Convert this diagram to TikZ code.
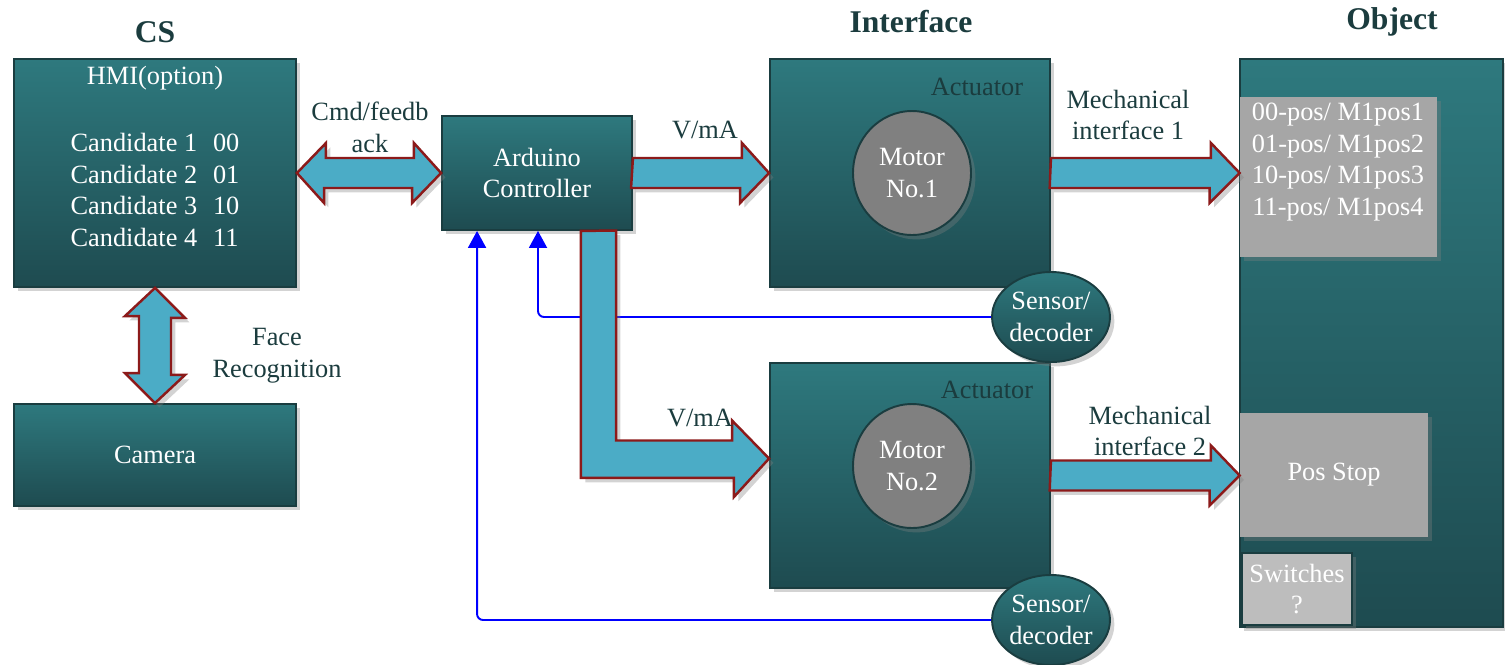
\documentclass[tikz,border=0pt]{standalone}
\usepackage{fontspec}
\setmainfont{Liberation Serif}
\usetikzlibrary{calc,shadows,arrows.meta,shapes.geometric}

\definecolor{tealtop}{HTML}{2E797E}
\definecolor{tealbot}{HTML}{1E4B50}
\definecolor{tealline}{HTML}{1A3D40}
\definecolor{labelcol}{HTML}{1B3C3E}
\definecolor{arrowfill}{HTML}{4BACC6}
\definecolor{arrowline}{HTML}{8C1A1A}
\definecolor{motorgray}{HTML}{808080}
\definecolor{boxgray}{HTML}{A6A6A6}
\definecolor{switchgray}{HTML}{BDBDBD}

\tikzset{
  shadowed/.style={drop shadow={opacity=0.35,shadow xshift=2.5pt,shadow yshift=-2.5pt}},
  box/.style={draw=tealline, line width=1.1pt, top color=tealtop, bottom color=tealbot,
    shadowed, text=white, align=center, inner sep=0pt},
  motor/.style={ellipse, draw=tealline, line width=1.1pt, fill=motorgray, shadowed,
    text=white, align=center, inner sep=0pt, minimum width=2.36cm, minimum height=2.48cm},
  sensor/.style={ellipse, box, minimum width=2.28cm, minimum height=1.8cm},
  graybox/.style={fill=boxgray, shadowed, text=white, align=center, inner sep=0pt},
  lbl/.style={text=labelcol, align=center, inner sep=0pt},
  ttl/.style={text=labelcol, inner sep=0pt, font=\fontsize{18}{21}\selectfont\bfseries},
  fat/.style={draw=arrowline, line width=1.4pt, fill=arrowfill, line join=miter, shadowed},
  fb/.style={draw=blue, line width=1.1pt, rounded corners=0.12cm,
    -{Triangle[width=0.36cm,length=0.34cm]}},
}

\begin{document}
\begin{tikzpicture}[x=0.02cm, y=-0.02cm, font=\fontsize{15}{18.1}\selectfont]
\useasboundingbox (0,0) rectangle (1505,664);

\node[ttl] (cst) at (155,32) {CS};
\node[ttl] (ift) at (911,22) {Interface};
\node[ttl] (objt) at (1392,22) {Object};

\node[box, minimum width=5.64cm, minimum height=4.56cm] (cs) at (155,173) {};
\node[lbl, text=white] (hmi) at (155,78) {HMI(option)};
\node[lbl, text=white, align=left] (cand) at (155,190) {Candidate 1\hspace{.6em}00\\Candidate 2\hspace{.6em}01\\Candidate 3\hspace{.6em}10\\Candidate 4\hspace{.6em}11};
\node[box, minimum width=5.64cm, minimum height=2.04cm] (cam) at (155,455) {Camera};

\node[box, minimum width=3.8cm, minimum height=2.28cm] (ard) at (537,173) {Arduino\\Controller};

\node[box, minimum width=5.6cm, minimum height=4.56cm] (act1) at (910,173) {};
\node[lbl] (actl1) at (977,87) {Actuator};
\node[motor] (mot1) at (912,173) {Motor\\No.1};
\node[box, minimum width=5.6cm, minimum height=4.5cm] (act2) at (910,475.5) {};
\node[lbl] (actl2) at (987,390) {Actuator};
\node[motor] (mot2) at (912,466) {Motor\\No.2};
\node[sensor] (sen1) at (1051,317) {Sensor/\\decoder};
\node[sensor] (sen2) at (1051,620) {Sensor/\\decoder};

\node[box, minimum width=5.26cm, minimum height=11.36cm] (obj) at (1371.5,343) {};
\node[graybox, minimum width=3.94cm, minimum height=3.2cm] (pos1) at (1338.5,177) {};
\node[lbl, text=white] (posl) at (1338,162) {00-pos/ M1pos1\\01-pos/ M1pos2\\10-pos/ M1pos3\\11-pos/ M1pos4};
\node[graybox, minimum width=3.76cm, minimum height=2.48cm] (stop) at (1334,475) {Pos Stop};
\node[graybox, fill=switchgray, draw=tealline, line width=0.6pt, minimum width=2.2cm, minimum height=1.44cm] (sw) at (1297,589) {Switches\\?};

\draw[fb] (sen1.west) -| ($(ard.south)+(1,0)$);
\draw[fb] (sen2.west) -| ($(ard.south west)+(36,0)$);

\draw[fat] (cs.east) -- ++(29,-30) -- ++(0,15) -- ++(88,0) -- ++(0,-15) -- (ard.west) -- ++(-29,30) -- ++(0,-15) -- ++(-88,0) -- ++(0,15) -- cycle;
\draw[fat] (cs.south) -- ++(30,30) -- ++(-14,0) -- ++(0,57) -- ++(14,0) -- (cam.north) -- ++(-30,-30) -- ++(14,0) -- ++(0,-57) -- ++(-14,0) -- cycle;
\draw[fat] ($(ard.east)+(0,-15)$) -- ++(109,0) -- ++(0,-15) -- (act1.west) -- ++(-29,30) -- ++(0,-15) -- ++(-109,0) -- cycle;
\draw[fat] ($(ard.south east)+(-52,0)$) -- ++(0,247) -- ++(153,0) -- ++(0,19) -- ($(act2.west)+(0,-17)$) -- ++(-37,-38) -- ++(0,20) -- ++(-116,0) -- ++(0,-210) -- cycle;
\draw[fat] ($(act1.east)+(0,-15)$) -- ++(160,0) -- ++(0,-15) -- (act1.east -| pos1.west) -- ++(-30,30) -- ++(0,-15) -- ++(-160,0) -- cycle;
\draw[fat] ($(act2.east)+(0,-15)$) -- ++(160,0) -- ++(0,-15) -- (act2.east -| stop.west) -- ++(-30,30) -- ++(0,-15) -- ++(-160,0) -- cycle;

\node[lbl] (cmdl) at (370,127) {Cmd/feedb\\ack};
\node[lbl] (vma1) at (705,130) {V/mA};
\node[lbl] (mech1) at (1128,115) {Mechanical\\interface 1};
\node[lbl] (facel) at (277,356) {Face\\Recognition};
\node[lbl] (vma2) at (700,418) {V/mA};
\node[lbl] (mech2) at (1150,431) {Mechanical\\interface 2};
\end{tikzpicture}
\end{document}
